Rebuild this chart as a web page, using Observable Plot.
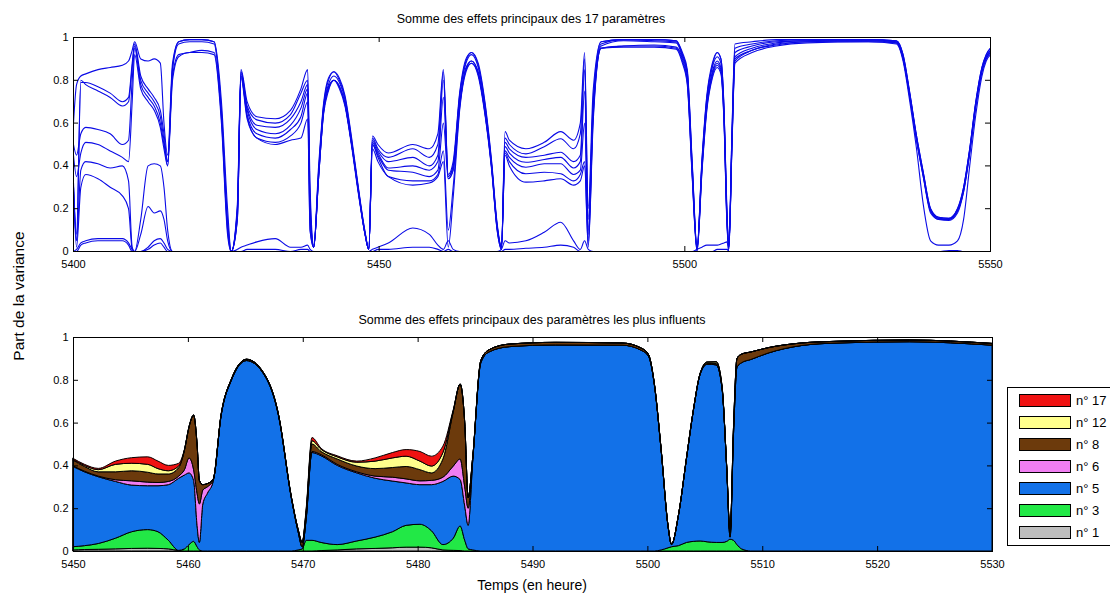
<!DOCTYPE html>
<html><head><meta charset="utf-8">
<script src="https://cdn.jsdelivr.net/npm/d3@7"></script>
<script src="https://cdn.jsdelivr.net/npm/@observablehq/plot@0.6"></script>
<style>
body{margin:0;background:#fff;overflow:hidden;font-family:"Liberation Sans",Arial,sans-serif;color:#000;}
#root{position:relative;width:1110px;height:594px;overflow:hidden;}
.abs{position:absolute;white-space:nowrap;}
.ctr{transform:translate(-50%,-50%);}
#legend{position:absolute;left:1007px;top:387px;width:130px;height:159px;border:1px solid #000;background:#fff;box-sizing:border-box;}
.sw{position:absolute;left:11px;width:52px;height:13px;border:1px solid #000;box-sizing:border-box;}
.lt{position:absolute;left:68px;font-size:13px;line-height:13px;}
</style></head><body><div id="root"></div>
<script>
// ---------- Top panel: "Somme des effets principaux des 17 paramètres" ----------
const hoursTop = [
  5400, 5400.5, 5401.2, 5402, 5404, 5406, 5408, 5409, 5409.6,
  5410, 5411, 5412.2, 5413.2, 5414.2, 5414.8, 5415.4, 5416.2,
  5417.2, 5419, 5421, 5423, 5424.2, 5425.2, 5425.8, 5426.8,
  5427.4, 5428.4, 5430, 5433, 5435.5, 5437.2, 5438.3, 5438.7,
  5439.3, 5440.1, 5440.9, 5441.7, 5442.6, 5443.5, 5444.4, 5445.5, 5446.6, 5447.7, 5448.3, 5448.9,
  5449.8, 5451.5, 5455.5, 5458.2, 5459.6, 5460.5, 5461.3, 5462.1,
  5463.2, 5464.2, 5465.1, 5466.2, 5467.3, 5468.4, 5469.3, 5470.0,
  5470.6, 5471.3, 5474, 5477, 5479.7, 5481.8, 5482.9, 5483.6, 5484.2, 5485, 5486.3,
  5490, 5495, 5498.6, 5499.6, 5500.4, 5501.2, 5502, 5502.8,
  5503.6, 5504.5, 5505.3, 5505.9, 5506.4, 5506.9, 5507.2, 5507.7, 5508.2,
  5511, 5515, 5520, 5530, 5534.6, 5535.7, 5536.8, 5537.9,
  5539, 5540.2, 5541.5, 5543.2, 5544.6, 5545.6, 5546.6, 5547.6, 5548.6, 5549.3, 5550
];
const curveA = [
  0.60, 0.78, 0.82, 0.83, 0.85, 0.86, 0.87, 0.89, 0.94,
  0.98, 0.90, 0.89, 0.90, 0.88, 0.60, 0.45, 0.88,
  0.98, 0.99, 0.99, 0.98, 0.70, 0.20, 0.00, 0.22,
  0.85, 0.70, 0.63, 0.62, 0.66, 0.76, 0.85, 0.30,
  0.03, 0.40, 0.69, 0.81, 0.84, 0.81, 0.73, 0.53, 0.30, 0.09, 0.01, 0.54,
  0.50, 0.46, 0.50, 0.48, 0.55, 0.85, 0.36, 0.42,
  0.75, 0.90, 0.93, 0.88, 0.70, 0.42, 0.13, 0.02,
  0.56, 0.52, 0.48, 0.51, 0.56, 0.52, 0.60, 0.93, 0.20, 0.75, 0.98,
  0.99, 0.99, 0.985, 0.93, 0.85, 0.42, 0.02, 0.43,
  0.73, 0.88, 0.93, 0.90, 0.68, 0.18, 0.03, 0.55, 0.97,
  0.98, 0.99, 0.99, 0.99, 0.985, 0.92, 0.74, 0.54,
  0.37, 0.20, 0.16, 0.155, 0.20, 0.30, 0.48, 0.70, 0.86, 0.92, 0.95
];
const curveB = [
  0.30, 0.05, 0.79, 0.79, 0.77, 0.74, 0.70, 0.72, 0.88,
  0.97, 0.82, 0.76, 0.72, 0.66, 0.55, 0.42, 0.86,
  0.98, 0.99, 0.99, 0.98, 0.66, 0.15, 0.00, 0.20,
  0.84, 0.68, 0.615, 0.60, 0.64, 0.74, 0.80, 0.25,
  0.02, 0.38, 0.68, 0.80, 0.84, 0.80, 0.72, 0.52, 0.29, 0.09, 0.01, 0.53,
  0.48, 0.44, 0.48, 0.44, 0.50, 0.84, 0.35, 0.40,
  0.74, 0.89, 0.93, 0.87, 0.69, 0.41, 0.12, 0.02,
  0.53, 0.50, 0.456, 0.49, 0.527, 0.48, 0.55, 0.90, 0.15, 0.70, 0.98,
  0.99, 0.99, 0.985, 0.92, 0.84, 0.41, 0.02, 0.42,
  0.72, 0.87, 0.93, 0.90, 0.67, 0.17, 0.03, 0.54, 0.95,
  0.97, 0.985, 0.99, 0.99, 0.985, 0.92, 0.74, 0.54,
  0.37, 0.20, 0.16, 0.155, 0.20, 0.30, 0.48, 0.70, 0.86, 0.92, 0.95
];
const curveC = [
  0.32, 0.08, 0.80, 0.78, 0.75, 0.72, 0.68, 0.70, 0.86,
  0.96, 0.80, 0.74, 0.70, 0.63, 0.52, 0.40, 0.85,
  0.97, 0.98, 0.98, 0.97, 0.64, 0.12, 0.00, 0.19,
  0.84, 0.67, 0.59, 0.58, 0.62, 0.70, 0.78, 0.20,
  0.02, 0.37, 0.67, 0.78, 0.82, 0.79, 0.71, 0.51, 0.29, 0.08, 0.01, 0.52,
  0.47, 0.42, 0.44, 0.40, 0.45, 0.80, 0.35, 0.40,
  0.73, 0.88, 0.92, 0.86, 0.68, 0.40, 0.12, 0.02,
  0.51, 0.48, 0.44, 0.45, 0.464, 0.42, 0.45, 0.85, 0.10, 0.68, 0.97,
  0.99, 0.985, 0.98, 0.92, 0.83, 0.40, 0.01, 0.41,
  0.71, 0.86, 0.91, 0.88, 0.66, 0.16, 0.02, 0.52, 0.93,
  0.96, 0.98, 0.985, 0.99, 0.98, 0.91, 0.73, 0.53,
  0.36, 0.19, 0.155, 0.15, 0.19, 0.29, 0.47, 0.69, 0.85, 0.91, 0.94
];
const curveD = [
  0.50, 0.45, 0.55, 0.58, 0.57, 0.55, 0.50, 0.52, 0.80,
  0.95, 0.78, 0.72, 0.68, 0.60, 0.50, 0.42, 0.82,
  0.92, 0.93, 0.94, 0.93, 0.62, 0.10, 0.00, 0.18,
  0.83, 0.66, 0.57, 0.55, 0.59, 0.67, 0.76, 0.20,
  0.02, 0.36, 0.66, 0.77, 0.80, 0.77, 0.69, 0.50, 0.28, 0.08, 0.01, 0.51,
  0.46, 0.39, 0.40, 0.38, 0.42, 0.72, 0.34, 0.38,
  0.70, 0.86, 0.89, 0.84, 0.66, 0.40, 0.11, 0.02,
  0.49, 0.46, 0.417, 0.43, 0.44, 0.39, 0.42, 0.75, 0.08, 0.66, 0.96,
  0.985, 0.98, 0.975, 0.91, 0.82, 0.38, 0.01, 0.40,
  0.69, 0.84, 0.89, 0.86, 0.64, 0.15, 0.02, 0.50, 0.91,
  0.95, 0.975, 0.985, 0.985, 0.98, 0.91, 0.73, 0.53,
  0.36, 0.19, 0.155, 0.15, 0.19, 0.29, 0.47, 0.69, 0.85, 0.91, 0.94
];
const curveE = [
  0.45, 0.35, 0.46, 0.51, 0.50, 0.47, 0.44, 0.42, 0.70,
  0.92, 0.76, 0.70, 0.66, 0.58, 0.48, 0.40, 0.80,
  0.91, 0.93, 0.93, 0.92, 0.60, 0.08, 0.00, 0.16,
  0.82, 0.64, 0.55, 0.53, 0.57, 0.63, 0.74, 0.15,
  0.02, 0.35, 0.65, 0.76, 0.80, 0.77, 0.69, 0.50, 0.28, 0.08, 0.01, 0.50,
  0.45, 0.38, 0.37, 0.35, 0.38, 0.60, 0.34, 0.38,
  0.69, 0.85, 0.89, 0.83, 0.65, 0.39, 0.11, 0.02,
  0.47, 0.44, 0.394, 0.41, 0.41, 0.36, 0.38, 0.60, 0.05, 0.64, 0.95,
  0.96, 0.965, 0.955, 0.90, 0.80, 0.37, 0.01, 0.39,
  0.68, 0.83, 0.88, 0.85, 0.63, 0.14, 0.02, 0.50, 0.90,
  0.94, 0.97, 0.98, 0.985, 0.975, 0.90, 0.72, 0.52,
  0.35, 0.19, 0.15, 0.15, 0.19, 0.28, 0.46, 0.68, 0.84, 0.90, 0.93
];
const curveF = [
  0.30, 0.05, 0.38, 0.42, 0.41, 0.39, 0.40, 0.33, 0.02,
  0.00, 0.15, 0.40, 0.41, 0.40, 0.30, 0.10, 0.00,
  0.00, 0.00, 0.00, 0.00, 0.00, 0.00, 0.00, 0.15,
  0.82, 0.63, 0.53, 0.51, 0.54, 0.60, 0.70, 0.10,
  0.02, 0.35, 0.65, 0.76, 0.80, 0.77, 0.69, 0.50, 0.28, 0.08, 0.01, 0.50,
  0.44, 0.35, 0.33, 0.33, 0.36, 0.47, 0.10, 0.30,
  0.68, 0.85, 0.88, 0.83, 0.65, 0.39, 0.10, 0.01,
  0.46, 0.42, 0.363, 0.37, 0.363, 0.33, 0.36, 0.42, 0.03, 0.62, 0.95,
  0.96, 0.96, 0.95, 0.89, 0.79, 0.36, 0.00, 0.38,
  0.67, 0.82, 0.87, 0.84, 0.62, 0.13, 0.01, 0.49, 0.89,
  0.94, 0.965, 0.98, 0.98, 0.975, 0.90, 0.72, 0.52,
  0.35, 0.18, 0.15, 0.145, 0.18, 0.28, 0.46, 0.68, 0.84, 0.90, 0.93
];
const curveG = [
  0.28, 0.02, 0.30, 0.36, 0.34, 0.30, 0.26, 0.20, 0.01,
  0.00, 0.08, 0.21, 0.18, 0.19, 0.15, 0.05, 0.00,
  0.00, 0.00, 0.00, 0.00, 0.00, 0.00, 0.00, 0.15,
  0.81, 0.62, 0.53, 0.50, 0.52, 0.53, 0.62, 0.10,
  0.02, 0.35, 0.64, 0.75, 0.80, 0.76, 0.68, 0.49, 0.27, 0.08, 0.01, 0.48,
  0.42, 0.35, 0.31, 0.32, 0.35, 0.42, 0.02, 0.25,
  0.67, 0.84, 0.88, 0.82, 0.64, 0.38, 0.10, 0.01,
  0.45, 0.40, 0.324, 0.33, 0.34, 0.31, 0.33, 0.40, 0.02, 0.60, 0.95,
  0.955, 0.955, 0.945, 0.88, 0.78, 0.35, 0.00, 0.37,
  0.66, 0.81, 0.86, 0.83, 0.61, 0.12, 0.01, 0.48, 0.88,
  0.93, 0.96, 0.975, 0.98, 0.97, 0.89, 0.70, 0.48,
  0.22, 0.05, 0.03, 0.03, 0.05, 0.15, 0.40, 0.64, 0.82, 0.89, 0.92
];
const curveH = [
  0, 0.01, 0.04, 0.05, 0.06, 0.06, 0.06, 0.04, 0.01,
  0, 0, 0.02, 0.05, 0.06, 0.04, 0.01, 0,
  0, 0, 0, 0, 0, 0, 0, 0.01,
  0.02, 0.03, 0.045, 0.06, 0.02, 0.02, 0.03, 0.01,
  0, 0, 0, 0, 0, 0, 0, 0, 0, 0, 0, 0.01,
  0.02, 0.04, 0.11, 0.08, 0.03, 0.01, 0.05, 0.01,
  0, 0, 0, 0, 0, 0, 0, 0.01,
  0.05, 0.04, 0.05, 0.09, 0.137, 0.05, 0.01, 0.05, 0.01, 0, 0,
  0, 0, 0, 0, 0, 0, 0.01, 0.02,
  0.03, 0.03, 0.03, 0.035, 0.04, 0.045, 0, 0, 0,
  0, 0, 0, 0, 0, 0, 0, 0,
  0, 0, 0, 0, 0, 0, 0, 0, 0, 0, 0
];
const curveI = [
  0, 0, 0.03, 0.04, 0.05, 0.05, 0.05, 0.03, 0,
  0, 0, 0.01, 0.03, 0.04, 0.02, 0, 0,
  0, 0, 0, 0, 0, 0, 0, 0,
  0, 0.01, 0.01, 0.01, 0, 0.01, 0.01, 0,
  0, 0, 0, 0, 0, 0, 0, 0, 0, 0, 0, 0,
  0.01, 0.01, 0.02, 0.02, 0.01, 0, 0.01, 0,
  0, 0, 0, 0, 0, 0, 0, 0,
  0.01, 0.01, 0.015, 0.02, 0.03, 0.02, 0, 0, 0, 0, 0,
  0, 0, 0, 0, 0, 0, 0, 0,
  0, 0, 0.01, 0.01, 0.01, 0.01, 0, 0, 0,
  0, 0, 0, 0, 0, 0, 0, 0,
  0, 0, 0, 0.005, 0.005, 0, 0, 0, 0, 0, 0
];
const topCurves = {A: curveA, B: curveB, C: curveC, D: curveD, E: curveE, F: curveF, G: curveG, H: curveH, I: curveI};
const topXTicks = [5400, 5450, 5500, 5550];
const yTicks = [0, 0.2, 0.4, 0.6, 0.8, 1];

// ---------- Bottom panel: stacked main effects of the most influential parameters ----------
const hoursBottom = [
  5450, 5451, 5452.2, 5453.7, 5455.1, 5456.5, 5457.4, 5458.3, 5459.2, 5459.7,
  5460.1, 5460.5, 5460.8, 5461.0, 5461.3, 5461.7, 5462.2, 5462.9, 5463.8, 5465.1,
  5466.5, 5467.9, 5469.0, 5469.6, 5469.95, 5470.3, 5470.8, 5471.6, 5473, 5474.7,
  5476.3, 5477.8, 5479, 5480.2, 5481.2, 5482.2, 5483.1, 5483.7, 5484.1, 5484.4,
  5484.8, 5485.5, 5486.2, 5488, 5492, 5497.8, 5499.4, 5500.1, 5500.6, 5501.2,
  5501.8, 5502.1, 5502.7, 5503.4, 5504.0, 5504.6, 5505.2, 5506.0, 5506.5, 5506.9,
  5507.2, 5507.5, 5507.8, 5508.2, 5509, 5510.5, 5513.4, 5516.5, 5522.8, 5530
];
const param1 = [
  .005, .007, .008, .01, .012, .013, .012, .01, .002, 0,
  0, 0, 0, 0, 0, 0, 0, 0, 0, 0,
  0, 0, 0, 0, 0, 0, 0, .002, .005, .01,
  .012, .015, .018, .018, .015, .005, .003, .002, 0, 0,
  0, 0, 0, 0, 0, 0, 0, 0, 0, 0,
  0, 0, 0, 0, 0, 0, 0, 0, 0, 0,
  0, 0, 0, 0, 0, 0, 0, 0, 0, 0
];
const param3 = [
  .015, .018, .027, .05, .078, .087, .078, .04, .001, .01,
  .03, .045, .02, .005, 0, 0, 0, 0, 0, 0,
  0, 0, 0, .005, .01, .05, .05, .038, .025, .037,
  .053, .075, .102, .107, .08, .025, .057, .115, .05, .01,
  .005, 0, 0, 0, 0, 0, 0, 0, 0, .005,
  .015, .02, .025, .04, .045, .047, .043, .04, .04, .045,
  .055, .05, .03, .01, 0, 0, 0, 0, 0, 0
];
const param5 = [
  .375, .345, .312, .265, .218, .205, .215, .26, .337, .345,
  .335, .285, .10, .035, .22, .27, .325, .635, .80, .89,
  .835, .63, .25, .085, .01, .10, .41, .405, .37, .318,
  .275, .237, .198, .185, .215, .295, .29, .217, .16, .11,
  .42, .88, .93, .955, .963, .962, .94, .91, .78, .465,
  .10, .01, .14, .39, .61, .78, .83, .83, .72, .35,
  .01, .50, .83, .87, .895, .925, .96, .972, .978, .962
];
const param6 = [
  .003, .003, .003, .008, .02, .017, .015, .015, .01, .025,
  .07, .05, .15, .18, .065, .03, .005, 0, 0, 0,
  0, 0, 0, 0, 0, .005, .005, .005, .005, .005,
  .01, .018, .019, .018, .02, .02, .047, .096, .09, .08,
  .005, 0, 0, 0, 0, 0, 0, 0, 0, 0,
  0, 0, 0, 0, 0, 0, 0, 0, 0, 0,
  0, 0, 0, 0, 0, 0, 0, 0, 0, 0
];
const param8 = [
  .027, .022, .02, .037, .047, .046, .04, .035, .04, .09,
  .145, .255, .23, .11, .025, .015, .005, .005, .005, .006,
  .005, .005, .005, .01, .02, .025, .035, .015, .025, .027,
  .035, .045, .058, .052, .035, .085, .253, .35, .30, .05,
  .01, .01, .01, .012, .012, .01, .01, .008, .005, .004,
  .003, .002, .002, .003, .003, .004, .005, .006, .005, .005,
  .02, .03, .04, .04, .035, .025, .012, .008, .008, .008
];
const param12 = [
  .003, .005, .01, .035, .035, .037, .025, .015, .007, .002,
  0, 0, 0, 0, 0, 0, 0, 0, 0, 0,
  0, 0, 0, 0, 0, .01, .015, .01, .01, .018,
  .035, .045, .048, .04, .032, .03, .005, 0, 0, 0,
  0, 0, 0, 0, 0, 0, 0, 0, 0, 0,
  0, 0, 0, 0, 0, 0, .005, .008, .005, 0,
  0, 0, 0, 0, 0, 0, 0, 0, 0, 0
];
const param17 = [
  .005, .005, .006, .015, .026, .035, .035, .025, .013, .003,
  .002, 0, 0, 0, 0, 0, 0, 0, 0, 0,
  0, 0, 0, 0, 0, .01, .015, .005, .005, .005,
  .015, .025, .031, .045, .046, .03, .005, 0, 0, 0,
  0, 0, 0, 0, 0, 0, 0, 0, 0, 0,
  0, 0, 0, 0, 0, 0, 0, 0, 0, 0,
  0, 0, 0, 0, 0, 0, 0, 0, 0, 0
];
const paramNames = ["n° 1", "n° 3", "n° 5", "n° 6", "n° 8", "n° 12", "n° 17"];
const paramColors = ["#bebebe", "#22e846", "#1271e8", "#f07ef2", "#6c3a0c", "#ffff8c", "#f01212"];
const paramValues = [param1, param3, param5, param6, param8, param12, param17];
const bottomXTicks = [5450, 5460, 5470, 5480, 5490, 5500, 5510, 5520, 5530];

// ---------- build tables ----------
const topData = [];
for (const [name, vals] of Object.entries(topCurves)) {
  hoursTop.forEach((t, i) => topData.push({t, v: vals[i], s: name}));
}
const bottomData = [];
paramNames.forEach((p, k) => {
  hoursBottom.forEach((t, i) => bottomData.push({t, v: paramValues[k][i], p}));
});

const font = {fontFamily: "'Liberation Sans', Arial, sans-serif", fontSize: "11px", color: "#000", background: "transparent", overflow: "visible"};
const fmt = d => String(d);

function frameMarks(xTicks, innerW, innerH) {
  return [
    Plot.frame({stroke: "#000", strokeWidth: 1}),
    Plot.tickX(xTicks, {x: d => d, insetTop: innerH - 5, stroke: "#000"}),
    Plot.tickX(xTicks, {x: d => d, insetBottom: innerH - 5, stroke: "#000"}),
    Plot.tickY(yTicks, {y: d => d, insetRight: innerW - 5, stroke: "#000"}),
    Plot.tickY(yTicks, {y: d => d, insetLeft: innerW - 5, stroke: "#000"}),
    Plot.axisX(xTicks, {tickSize: 0, tickPadding: 9, tickFormat: fmt, label: null}),
    Plot.axisY(yTicks, {tickSize: 0, tickPadding: 5, tickFormat: fmt, label: null})
  ];
}

const topPlot = Plot.plot({
  width: 1110, height: 270,
  marginTop: 37, marginBottom: 19, marginLeft: 73, marginRight: 120,
  x: {domain: [5400, 5550]},
  y: {domain: [0, 1]},
  style: font,
  marks: [
    Plot.line(topData, {x: "t", y: "v", z: "s", stroke: "#0a0ae6", strokeWidth: 1.1, curve: "monotone-x"}),
    ...frameMarks(topXTicks, 917, 214)
  ]
});

const bottomPlot = Plot.plot({
  width: 1110, height: 270,
  marginTop: 37, marginBottom: 19, marginLeft: 73, marginRight: 118,
  x: {domain: [5450, 5530]},
  y: {domain: [0, 1]},
  color: {domain: paramNames, range: paramColors},
  style: font,
  marks: [
    Plot.areaY(bottomData, Plot.stackY({x: "t", y: "v", z: "p", fill: "p", stroke: "#000", strokeWidth: 1, curve: "monotone-x"})),
    ...frameMarks(bottomXTicks, 919, 214)
  ]
});

const root = document.getElementById("root");
function place(el, top) {
  const d = document.createElement("div");
  d.className = "abs";
  d.style.left = "0px"; d.style.top = top + "px";
  d.appendChild(el);
  root.appendChild(d);
}
place(topPlot, 0);
place(bottomPlot, 300);

function text(str, x, y, size, rotate) {
  const d = document.createElement("div");
  d.className = "abs ctr";
  d.style.left = x + "px"; d.style.top = y + "px";
  d.style.fontSize = size + "px";
  if (rotate) d.style.transform = "translate(-50%,-50%) rotate(-90deg)";
  d.textContent = str;
  root.appendChild(d);
}
text("Somme des effets principaux des 17 paramètres", 531, 19, 12.5);
text("Somme des effets principaux des paramètres les plus influents", 532, 320, 12.5);
text("Temps (en heure)", 532, 585, 14);
text("Part de la variance", 19, 296, 15.5, true);

// legend (top entry = last stacked layer)
const legend = document.createElement("div");
legend.id = "legend";
const order = paramNames.map((n, i) => i).reverse();
order.forEach((k, row) => {
  const sw = document.createElement("div");
  sw.className = "sw";
  sw.style.top = (6 + row * 22) + "px";
  sw.style.background = paramColors[k];
  legend.appendChild(sw);
  const lt = document.createElement("div");
  lt.className = "lt";
  lt.style.top = (6 + row * 22) + "px";
  lt.textContent = paramNames[k];
  legend.appendChild(lt);
});
root.appendChild(legend);
</script></body></html>
